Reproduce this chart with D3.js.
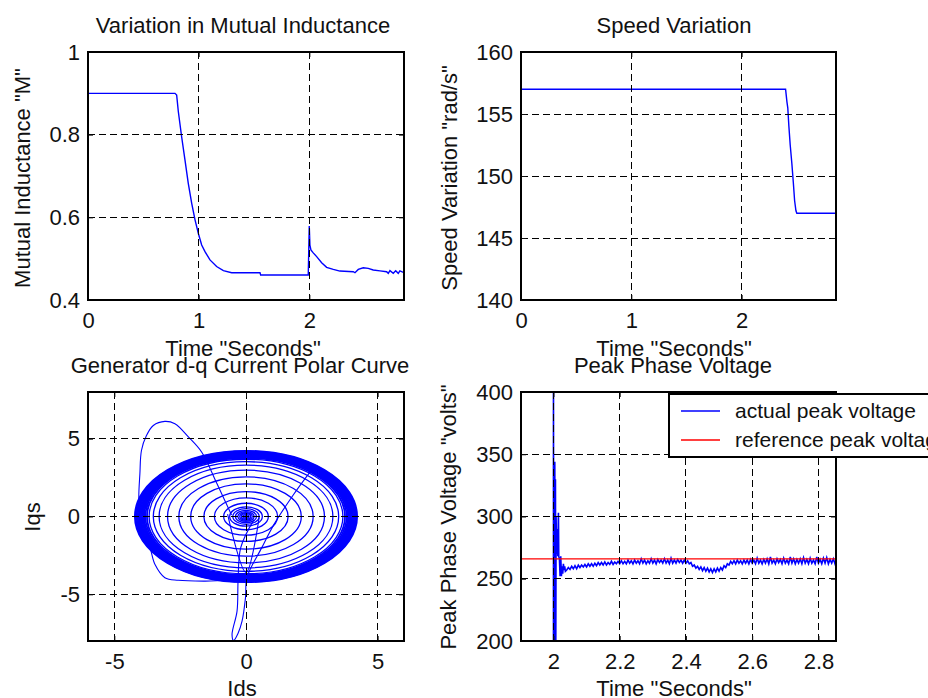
<!DOCTYPE html>
<html>
<head>
<meta charset="utf-8">
<script src="https://cdn.jsdelivr.net/npm/d3@7"></script>
<style>
    body { margin: 0; background: #fff; overflow: hidden; }
    svg { display: block; font-family: "Liberation Sans", Arial, sans-serif; }
    .box { fill: none; stroke: #000; stroke-width: 1.3; shape-rendering: crispEdges; }
    .grid { stroke: #000; stroke-width: 1; stroke-dasharray: 7,4; shape-rendering: crispEdges; }
    .label { font-size: 22px; fill: #111; }
    .trace { fill: none; stroke: #0000ff; stroke-width: 1.4; }
</style>
</head>
<body>
<div id="chart-location"></div>
<script>
// (DATA) mutual inductance vs time
var inductanceTime = [0, 0.786, 0.801, 0.816, 0.846, 0.876, 0.906, 0.937, 0.967, 0.997, 1.027, 1.057, 1.102, 1.162, 1.223, 1.298, 1.554, 1.56, 1.99,
    1.999, 2.005, 2.014, 2.035, 2.066, 2.111, 2.156, 2.216, 2.276, 2.397, 2.412, 2.442, 2.487, 2.532, 2.577, 2.638, 2.698, 2.713, 2.728, 2.758, 2.78, 2.803, 2.818, 2.855];
var inductanceValue = [0.9, 0.9, 0.896, 0.856, 0.795, 0.739, 0.682, 0.634, 0.594, 0.561, 0.533, 0.517, 0.497, 0.481, 0.471, 0.466, 0.466, 0.4605, 0.4605,
    0.579, 0.533, 0.521, 0.514, 0.505, 0.49, 0.479, 0.474, 0.47, 0.4685, 0.466, 0.474, 0.478, 0.4765, 0.4725, 0.4705, 0.4685, 0.4645, 0.471, 0.4645, 0.4705, 0.4645, 0.4705, 0.466];

// (DATA) speed vs time
var speedTime = [0, 2.398, 2.41, 2.418, 2.428, 2.44, 2.455, 2.468, 2.48, 2.492, 2.5, 2.855];
var speedValue = [157, 157, 156, 155.5, 154, 152.5, 151, 149.5, 148, 147.2, 147, 147];

// (DATA) d-q current polar curve: ring radii of the steady spiral, and the start-up transients
var ringRadii = [0.06, 0.12, 0.18, 0.24, 0.31, 0.4, 0.5, 0.62, 0.85, 1.2, 1.6, 2.1, 2.55, 2.98, 3.3, 3.52, 3.68,
    3.76, 3.82, 3.87, 3.91, 3.95, 3.99, 4.03, 4.07, 4.11, 4.15, 4.19, 4.22];
var loopIds = [-0.55, -1.1, -1.68, -2.18, -2.7, -3.08, -3.52, -3.78, -3.97, -4.03, -4.07, -4.0, -3.85, -3.65, -3.46, -3.08, -2.57, -1.55, -0.5];
var loopIqs = [0.1, 2.1, 4.13, 5.1, 5.96, 6.11, 5.85, 5.2, 4.24, 2.73, 1.2, -0.6, -1.4, -2.0, -3.07, -3.93, -4.1, -4.15, -4.1];
var dipIds = [0.3, -0.2, -0.3, -0.34, -0.53, -0.47, -0.3, -0.15, -0.02, 0.04, 0.6, 1.07, 1.8, 2.47];
var dipIqs = [-0.2, -2.0, -4.1, -6.08, -7.59, -7.97, -7.5, -6.73, -5.23, -3.9, -2.0, -0.49, 1.4, 2.95];
var vIds = [-0.7, 0, 0.5];
var vIqs = [0.15, -3.6, -0.06];

// (DATA) peak phase voltage: start-up spikes, then sampled values every 5 ms from 2.04 s
var spikeTime = [2.0, 2.0, 2.0005, 2.003, 2.004, 2.005, 2.006, 2.007, 2.008, 2.009, 2.010, 2.011, 2.012, 2.013, 2.015, 2.016, 2.018, 2.020, 2.022, 2.024, 2.026, 2.028, 2.030, 2.032, 2.034, 2.036];
var spikeValue = [190, 420, 266, 190, 344, 190, 330, 190, 300, 275, 290, 270, 280, 268, 303, 268, 266, 252, 268, 252, 260, 254, 262, 257, 260, 256];
var voltageStart = 2.04;
var voltageStep = 0.005;
var voltageValues = [
    257, 259, 257.5, 260, 258, 260.5, 258, 261, 259, 261,
    259.5, 261.5, 259.5, 262, 260, 262, 260, 262.5, 260.5, 263,
    261, 263, 261, 263.5, 261, 263, 261.5, 264, 261.5, 263.5,
    262, 264, 262, 264.5, 262, 264, 262, 265, 262.5, 264.5,
    262, 265, 262.5, 264.5, 262, 266, 262.5, 265, 262, 264.5,
    262.5, 266, 262.5, 265, 262, 265.5, 263, 265, 262.5, 266,
    262.5, 265, 262, 266.5, 262.5, 265, 262.5, 265.5, 263, 265,
    262.5, 265, 262.5, 264.5, 262, 263, 260, 261, 258.5, 260,
    257.5, 259.5, 256.5, 259, 256, 258.5, 255.5, 258, 255, 258,
    255.5, 258.5, 256, 259, 257, 260.5, 259, 262, 261, 264,
    262, 264.5, 262, 265, 262.5, 264.5, 262, 265, 262.5, 265,
    262, 265.5, 262.5, 265, 262, 266.5, 262.5, 265, 262, 265.5,
    262.5, 266, 262, 267.5, 262.5, 265, 262, 266, 263, 265.5,
    262, 266.5, 262.5, 265, 262, 267.5, 262.5, 266, 262, 265.5,
    262.5, 266, 262, 267, 262.5, 265.5, 262, 266.5, 262.5, 265,
    262, 267.5, 262.5, 265.5, 262, 266.5, 262.5, 267, 262, 265.5,
    262.5, 266, 262, 266.5];
var referenceVoltage = 266;

// (TICKS)
var timeTicks = [0, 1, 2];
var inductanceTicks = [0.4, 0.6, 0.8, 1];
var speedTicks = [140, 145, 150, 155, 160];
var currentTicks = [-5, 0, 5];
var voltTimeTicks = [2, 2.2, 2.4, 2.6, 2.8];
var voltTicks = [200, 250, 300, 350, 400];

var legendLabels = ["actual peak voltage", "reference peak voltage"];
var legendColors = ["#0000ff", "#ff0000"];

function init () {

    var w = 928;
    var h = 698;

    var svg = d3.select("#chart-location")
        .append("svg")
        .attr("width", w)
        .attr("height", h);

    // function to draw one MATLAB style axes box, returns scales and a clipped group for the data
    function drawPanel(p) {
        var xScale = d3.scaleLinear().domain(p.xDomain).range([p.left, p.right]);
        var yScale = d3.scaleLinear().domain(p.yDomain).range([p.bottom, p.top]);

        var clipId = "clip-" + p.id;
        svg.append("clipPath").attr("id", clipId)
            .append("rect")
            .attr("x", p.left).attr("y", p.top)
            .attr("width", p.right - p.left).attr("height", p.bottom - p.top);

        var g = svg.append("g");
        var plot = g.append("g").attr("clip-path", "url(#" + clipId + ")");
        var over = g.append("g");

        // (GRID) dashed, drawn after the data so it sits on top like the original
        var draw = function () {
            over.selectAll(".gx").data(p.xTicks).enter().append("line")
                .attr("class", "grid gx")
                .attr("x1", function(d) { return xScale(d); })
                .attr("x2", function(d) { return xScale(d); })
                .attr("y1", p.top).attr("y2", p.bottom);
            over.selectAll(".gy").data(p.yTicks).enter().append("line")
                .attr("class", "grid gy")
                .attr("y1", function(d) { return yScale(d); })
                .attr("y2", function(d) { return yScale(d); })
                .attr("x1", p.left).attr("x2", p.right);

            // (AXES) inward ticks on all four sides
            var fmt = function(d) { return String(d); };
            var axes = [
                [d3.axisBottom(xScale).tickValues(p.xTicks).tickFormat(fmt).tickPadding(12), "translate(0," + p.bottom + ")"],
                [d3.axisTop(xScale).tickValues(p.xTicks).tickFormat(""), "translate(0," + p.top + ")"],
                [d3.axisLeft(yScale).tickValues(p.yTicks).tickFormat(fmt).tickPadding(8), "translate(" + p.left + ",0)"],
                [d3.axisRight(yScale).tickValues(p.yTicks).tickFormat(""), "translate(" + p.right + ",0)"]
            ];
            axes.forEach(function(a) {
                var ag = over.append("g")
                    .attr("transform", a[1])
                    .call(a[0].tickSize(-5))
                    .attr("font-size", 22)
                    .attr("font-family", null)
                    .attr("color", "#111");
                ag.select(".domain").remove();
            });

            // (BOX)
            over.append("rect")
                .attr("class", "box")
                .attr("x", p.left).attr("y", p.top)
                .attr("width", p.right - p.left).attr("height", p.bottom - p.top);

            // (TEXT) title, x label and rotated y label
            over.append("text").attr("class", "label")
                .attr("x", p.titleX).attr("y", p.titleY)
                .attr("text-anchor", "middle").text(p.title);
            over.append("text").attr("class", "label")
                .attr("x", p.xLabelX).attr("y", p.xLabelY)
                .attr("text-anchor", "middle").text(p.xLabel);
            over.append("text").attr("class", "label")
                .attr("transform", "translate(" + p.yLabelX + "," + p.yLabelY + ") rotate(-90)")
                .attr("text-anchor", "middle").text(p.yLabel);
        };

        return { x: xScale, y: yScale, plot: plot, finish: draw, g: g };
    }

    // (PANEL 1) mutual inductance
    var p1 = drawPanel({
        id: "m", left: 88, right: 404, top: 52, bottom: 300,
        xDomain: [0, 2.855], yDomain: [0.4, 1], xTicks: timeTicks, yTicks: inductanceTicks,
        title: "Variation in Mutual Inductance", titleX: 243, titleY: 33,
        xLabel: "Time \"Seconds\"", xLabelX: 243, xLabelY: 356,
        yLabel: "Mutual Inductance \"M\"", yLabelX: 30, yLabelY: 178
    });
    p1.plot.append("path")
        .datum(d3.zip(inductanceTime, inductanceValue))
        .attr("class", "trace")
        .attr("d", d3.line().x(function(d) { return p1.x(d[0]); }).y(function(d) { return p1.y(d[1]); }));
    p1.finish();

    // (PANEL 2) speed
    var p2 = drawPanel({
        id: "s", left: 521, right: 836, top: 52, bottom: 300,
        xDomain: [0, 2.855], yDomain: [140, 160], xTicks: timeTicks, yTicks: speedTicks,
        title: "Speed Variation", titleX: 674, titleY: 33,
        xLabel: "Time \"Seconds\"", xLabelX: 674, xLabelY: 356,
        yLabel: "Speed Variation \"rad/s\"", yLabelX: 457, yLabelY: 178
    });
    p2.plot.append("path")
        .datum(d3.zip(speedTime, speedValue))
        .attr("class", "trace")
        .attr("d", d3.line().x(function(d) { return p2.x(d[0]); }).y(function(d) { return p2.y(d[1]); }));
    p2.finish();

    // (PANEL 3) d-q current polar curve
    var p3 = drawPanel({
        id: "dq", left: 88, right: 404, top: 392, bottom: 641,
        xDomain: [-6, 6], yDomain: [-8, 8], xTicks: currentTicks, yTicks: currentTicks,
        title: "Generator d-q Current Polar Curve", titleX: 240, titleY: 373,
        xLabel: "Ids", xLabelX: 242, xLabelY: 696,
        yLabel: "Iqs", yLabelX: 40, yLabelY: 517
    });
    p3.plot.selectAll("ellipse")
        .data(ringRadii)
        .enter()
        .append("ellipse")
        .attr("class", "trace")
        .attr("cx", p3.x(0))
        .attr("cy", p3.y(0))
        .attr("rx", function(d) { return p3.x(d) - p3.x(0); })
        .attr("ry", function(d) { return p3.y(0) - p3.y(d); })
        .style("stroke-width", function(d) { return d > 3.72 ? 1.8 : 1.3; });
    var polarLine = d3.line()
        .curve(d3.curveCatmullRom)
        .x(function(d) { return p3.x(d[0]); })
        .y(function(d) { return p3.y(d[1]); });
    [d3.zip(loopIds, loopIqs), d3.zip(dipIds, dipIqs), d3.zip(vIds, vIqs)].forEach(function(seg) {
        p3.plot.append("path").datum(seg).attr("class", "trace").style("stroke-width", 1.1).attr("d", polarLine);
    });
    p3.finish();

    // (PANEL 4) peak phase voltage
    var p4 = drawPanel({
        id: "v", left: 521, right: 836, top: 392, bottom: 641,
        xDomain: [1.902, 2.853], yDomain: [200, 400], xTicks: voltTimeTicks, yTicks: voltTicks,
        title: "Peak Phase Voltage", titleX: 673, titleY: 373,
        xLabel: "Time \"Seconds\"", xLabelX: 674, xLabelY: 696,
        yLabel: "Peak Phase Voltage \"volts\"", yLabelX: 456, yLabelY: 517
    });
    var voltPoints = d3.zip(spikeTime, spikeValue).concat(voltageValues.map(function(v, i) {
        return [voltageStart + i * voltageStep, v];
    }));
    var voltLine = d3.line().x(function(d) { return p4.x(d[0]); }).y(function(d) { return p4.y(d[1]); });
    p4.plot.append("path").datum(voltPoints).attr("class", "trace").style("stroke-width", 1.6).attr("d", voltLine);
    p4.plot.append("path")
        .datum([[1.902, referenceVoltage], [2.853, referenceVoltage]])
        .attr("class", "trace").style("stroke", "#ff0000").style("stroke-width", 1.3)
        .attr("d", voltLine);
    p4.finish();

    // (LEGEND) sticks out past the right edge of the window, like the original
    var legend = svg.append("g").attr("transform", "translate(669,394)");
    legend.append("rect")
        .attr("width", 300).attr("height", 63)
        .attr("fill", "#fff").attr("stroke", "#000").attr("stroke-width", 1.3)
        .style("shape-rendering", "crispEdges");
    var item = legend.selectAll(".item").data(legendLabels).enter().append("g")
        .attr("transform", function(d, i) { return "translate(0," + (17 + i * 29) + ")"; });
    item.append("line")
        .attr("x1", 12).attr("x2", 51)
        .attr("stroke", function(d, i) { return legendColors[i]; })
        .attr("stroke-width", 1.3);
    item.append("text")
        .attr("class", "label")
        .style("font-size", "21px")
        .attr("x", 66).attr("y", 7)
        .text(function(d) { return d; });
}

window.onload = init;
</script>
</body>
</html>
